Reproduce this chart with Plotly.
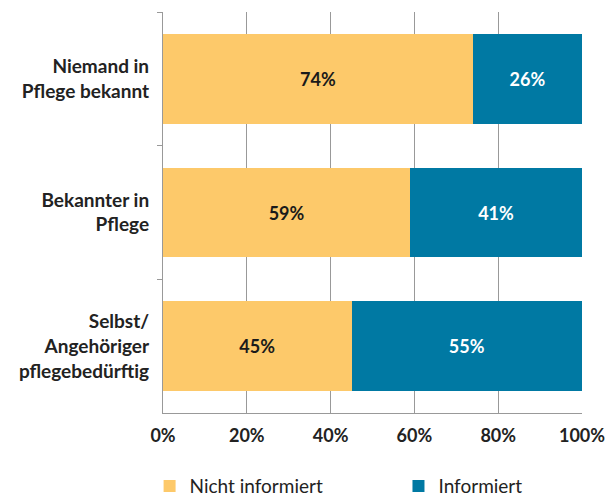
import plotly.graph_objects as go

categories = ["Niemand in<br>Pflege bekannt", "Bekannter in<br>Pflege", "Selbst/<br>Angehöriger<br>pflegebedürftig"]
nicht_informiert = [74, 59, 45]
informiert = [26, 41, 55]
x_ticks = [0, 20, 40, 60, 80, 100]
x_tick_labels = ["0%", "20%", "40%", "60%", "80%", "100%"]

FONT = "Lato, sans-serif"
fig = go.Figure()
fig.add_trace(go.Bar(
    y=categories, x=nicht_informiert, orientation="h", name="Nicht informiert",
    marker=dict(color="#FDC96A", line=dict(width=0)),
    text=[f"{v}%" for v in nicht_informiert], textposition="inside", insidetextanchor="middle",
    textfont=dict(family=FONT, size=18, color="#1a1a1a", weight="bold"),
    legend="legend",
))
fig.add_trace(go.Bar(
    y=categories, x=informiert, orientation="h", name="Informiert",
    marker=dict(color="#0079A3", line=dict(width=0)),
    text=[f"{v}%" for v in informiert], textposition="inside", insidetextanchor="middle",
    textfont=dict(family=FONT, size=18, color="#ffffff", weight="bold"),
    legend="legend2",
))

leg_common = dict(orientation="h", yanchor="top", y=-0.135, xanchor="left",
                  font=dict(family=FONT, size=19, color="#222"),
                  itemwidth=30, bgcolor="rgba(0,0,0,0)")
fig.update_layout(
    barmode="stack", bargap=0.33,
    width=612, height=496,
    margin=dict(l=163, r=30, t=12, b=83, autoexpand=False),
    paper_bgcolor="white", plot_bgcolor="white",
    font=dict(family=FONT, color="#222"),
    showlegend=True,
    legend=dict(x=-0.032, **leg_common),
    legend2=dict(x=0.562, **leg_common),
    uniformtext=dict(mode=None),
)
fig.update_xaxes(range=[0, 100], tickvals=x_ticks, ticktext=x_tick_labels,
                 showgrid=True, gridcolor="#999", gridwidth=1.2,
                 showline=True, linecolor="#999", linewidth=1.2, mirror=False,
                 ticks="", tickfont=dict(family=FONT, size=18, color="#222", weight="bold"),
                 ticklabelstandoff=6,
                 zeroline=False, fixedrange=True, automargin=False)
fig.update_yaxes(autorange="reversed", categoryorder="array", categoryarray=categories,
                 showline=True, linecolor="#999", linewidth=1.2,
                 ticks="outside", ticklen=5, tickcolor="#999", tickson="boundaries",
                 tickfont=dict(family=FONT, size=19, color="#222", weight="bold"),
                 ticklabelstandoff=9, showgrid=False, automargin=False)

fig.write_html("out.html", config={"displayModeBar": False},
               post_script="document.body.style.margin='0';document.body.style.overflow='hidden';")
